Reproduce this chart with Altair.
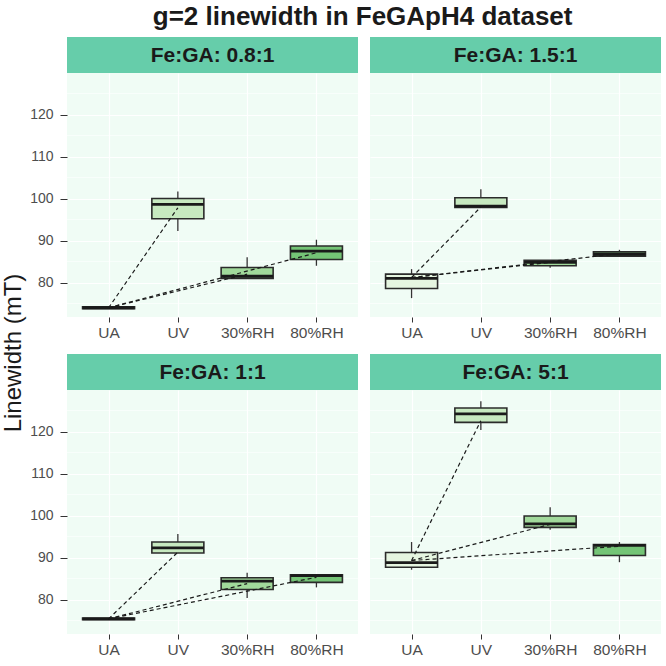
import altair as alt
import pandas as pd

FONT = "Liberation Sans"

title_text = "g=2 linewidth in FeGApH4 dataset"
y_title = "Linewidth (mT)"
panels = ["Fe:GA: 0.8:1", "Fe:GA: 1.5:1", "Fe:GA: 1:1", "Fe:GA: 5:1"]
conds = ["UA", "UV", "30%RH", "80%RH"]
fills = ["#E5F5E0", "#C7E9C0", "#A1D99B", "#74C476"]

# box statistics per panel, in the order of conds
lo_08 = [73.8, 92.3, 81.0, 84.0]
q1_08 = [73.8, 95.2, 81.0, 85.5]
med_08 = [74.0, 98.6, 81.5, 87.5]
q3_08 = [74.2, 100.0, 83.6, 88.7]
hi_08 = [74.2, 101.7, 86.0, 90.2]
mean_08 = [74.0, 97.8, 82.0, 87.1]

lo_15 = [76.3, 97.9, 83.5, 86.3]
q1_15 = [78.6, 97.9, 84.0, 86.3]
med_15 = [81.0, 98.2, 84.8, 86.7]
q3_15 = [82.0, 100.2, 85.3, 87.3]
hi_15 = [83.2, 102.2, 85.3, 87.8]
mean_15 = [81.2, 98.0, 84.8, 86.9]

lo_11 = [75.2, 91.1, 80.4, 82.9]
q1_11 = [75.2, 91.1, 82.4, 84.1]
med_11 = [75.4, 92.3, 84.4, 85.7]
q3_11 = [75.6, 93.7, 85.2, 85.9]
hi_11 = [75.6, 95.6, 86.4, 85.9]
mean_11 = [75.4, 91.3, 83.8, 85.3]

lo_51 = [87.1, 120.4, 96.6, 88.9]
q1_51 = [87.7, 122.2, 97.2, 90.5]
med_51 = [88.8, 124.2, 98.0, 92.9]
q3_51 = [91.2, 125.6, 99.9, 93.1]
hi_51 = [93.7, 127.2, 102.0, 93.7]
mean_51 = [89.3, 122.6, 97.9, 92.7]

y_ticks = [80, 90, 100, 110, 120]
y_minor = [75, 85, 95, 105, 115, 125]
y_domain = [71.8, 129.9]

stats = {
    panels[0]: (lo_08, q1_08, med_08, q3_08, hi_08, mean_08),
    panels[1]: (lo_15, q1_15, med_15, q3_15, hi_15, mean_15),
    panels[2]: (lo_11, q1_11, med_11, q3_11, hi_11, mean_11),
    panels[3]: (lo_51, q1_51, med_51, q3_51, hi_51, mean_51),
}

rows, segs = [], []
for p in panels:
    lo, q1, md, q3, hi, mn = stats[p]
    for i, c in enumerate(conds):
        rows.append(dict(panel=p, cond=c, lo=lo[i], q1=q1[i], med=md[i], q3=q3[i], hi=hi[i]))
    for i, c in enumerate(conds[1:], start=1):
        segs.append(dict(panel=p, seg=c, cond="UA", val=mn[0]))
        segs.append(dict(panel=p, seg=c, cond=c, val=mn[i]))
df = pd.DataFrame(rows)
seg_df = pd.DataFrame(segs)

W, H, SH = 291, 244, 36
PANEL_BG = "#F0FCF5"


def make_panel(p, left):
    d = df[df.panel == p]
    s = seg_df[seg_df.panel == p]
    xscale = alt.Scale(type="point", domain=conds, padding=0.6)
    xaxis = alt.Axis(title=None, labelAngle=0, labelFontSize=15.5, labelColor="#4D4D4D",
                     labelFont=FONT, tickColor="#333333", tickSize=5, labelPadding=3,
                     domain=False, grid=True, gridColor="white", gridWidth=1.2)
    yscale = alt.Scale(domain=y_domain, nice=False, zero=False)
    if left:
        yaxis = alt.Axis(title=None, values=y_ticks, grid=True, gridColor="white", gridWidth=1.2,
                         domain=False, labelFontSize=14, labelColor="#4D4D4D", labelFont=FONT,
                         tickColor="#333333", tickSize=7, labelPadding=7)
    else:
        yaxis = alt.Axis(title=None, values=y_ticks, grid=True, gridColor="white", gridWidth=1.2,
                         domain=False, labels=False, ticks=False)

    minor = alt.Chart(pd.DataFrame({"v": y_minor})).mark_rule(
        color="white", strokeWidth=0.6).encode(y=alt.Y("v:Q", scale=yscale, axis=yaxis))
    base = alt.Chart(d).encode(x=alt.X("cond:N", scale=xscale, axis=xaxis, sort=conds))
    whisk = base.mark_rule(color="#333333", strokeWidth=1.3).encode(
        y=alt.Y("lo:Q", scale=yscale, axis=yaxis), y2="hi:Q")
    box = base.mark_bar(size=52, stroke="#2B2B2B", strokeWidth=1.6).encode(
        y=alt.Y("q1:Q", scale=yscale, axis=yaxis), y2="q3:Q",
        fill=alt.Fill("cond:N", scale=alt.Scale(domain=conds, range=fills), legend=None))
    med = base.mark_tick(size=52, thickness=2.8, color="#1A1A1A", opacity=1).encode(
        y=alt.Y("med:Q", scale=yscale, axis=yaxis))
    lines = alt.Chart(s).mark_line(color="#1A1A1A", strokeDash=[4, 3], strokeWidth=1.2).encode(
        x=alt.X("cond:N", scale=xscale, axis=xaxis, sort=conds),
        y=alt.Y("val:Q", scale=yscale, axis=yaxis), detail="seg:N")
    return alt.layer(minor, whisk, box, med, lines).properties(
        width=W, height=H, view=alt.ViewBackground(fill=PANEL_BG, stroke=None))


def make_strip(p):
    sd = pd.DataFrame({"label": [p]})
    r = alt.Chart(sd).mark_rect(color="#66CDAA").encode(
        x=alt.value(0), x2=alt.value(W), y=alt.value(0), y2=alt.value(SH))
    t = alt.Chart(sd).mark_text(font=FONT, fontSize=21, fontWeight="bold", color="#1A1A1A",
                                baseline="middle", align="center").encode(
        x=alt.value(W / 2), y=alt.value(SH / 2 + 1), text="label:N")
    return alt.layer(r, t).properties(width=W, height=SH, view=alt.ViewBackground(stroke=None))


def cell(i, left):
    return alt.vconcat(make_strip(panels[i]), make_panel(panels[i], left), spacing=0)


row1 = alt.hconcat(cell(0, True), cell(1, False), spacing=10)
row2 = alt.hconcat(cell(2, True), cell(3, False), spacing=10)
grid = alt.vconcat(row1, row2, spacing=13)

ylab = alt.Chart(pd.DataFrame({"t": [y_title]})).mark_text(
    angle=270, font=FONT, fontSize=24, color="#1A1A1A", baseline="middle", align="center").encode(
    x=alt.value(10), y=alt.value(316), text="t:N").properties(
    width=20, height=597, view=alt.ViewBackground(stroke=None))

chart = alt.hconcat(ylab, grid, spacing=3).properties(
    title=alt.TitleParams(title_text, font=FONT, fontSize=26, fontWeight="bold", color="#1A1A1A",
                          anchor="middle", dx=31, offset=7),
    padding={"left": 2, "top": 4, "right": 0, "bottom": 0},
    background="white",
).configure_view(stroke=None)

chart.save("out.html", embed_options={"renderer": "svg", "actions": False})
